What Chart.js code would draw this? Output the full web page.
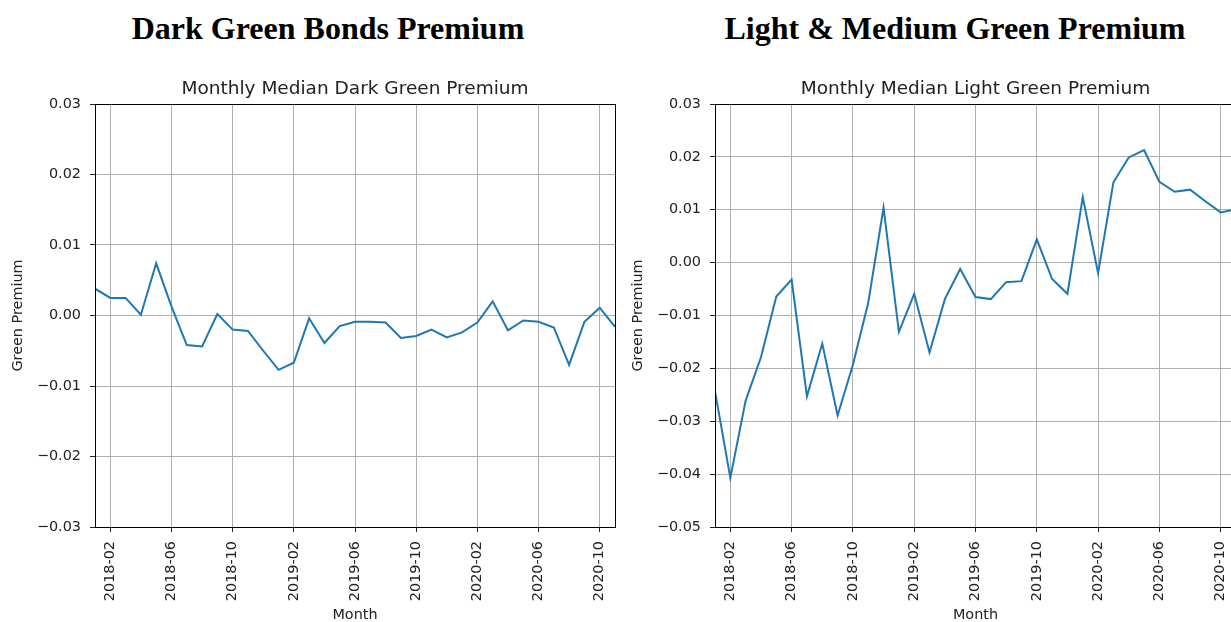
<!DOCTYPE html>
<html>
<head>
<meta charset="utf-8">
<script src="https://cdn.jsdelivr.net/npm/chart.js@4.4.1/dist/chart.umd.min.js"></script>
<style>
  body { margin: 0; background: #fff; overflow: hidden; width: 1231px; height: 622px; position: relative; }
  .heading {
    position: absolute; top: 10px; line-height: 32px; white-space: nowrap; color: #000;
    font: bold 32px "Liberation Serif", "Times New Roman", serif;
    transform: translateX(-50%);
  }
  canvas { position: absolute; top: 60px; }
</style>
</head>
<body>
<div class="heading" style="left:328px">Dark Green Bonds Premium</div>
<div class="heading" style="left:955px">Light &amp; Medium Green Premium</div>
<canvas id="darkChart" width="620" height="562" style="left:0"></canvas>
<canvas id="lightChart" width="621" height="562" style="left:620px"></canvas>
<script>
// monthly medians, Jan 2018 - Nov 2020
const months = [
  '2018-01', '2018-02', '2018-03', '2018-04', '2018-05', '2018-06', '2018-07', '2018-08', '2018-09', '2018-10', '2018-11', '2018-12',
  '2019-01', '2019-02', '2019-03', '2019-04', '2019-05', '2019-06', '2019-07', '2019-08', '2019-09', '2019-10', '2019-11', '2019-12',
  '2020-01', '2020-02', '2020-03', '2020-04', '2020-05', '2020-06', '2020-07', '2020-08', '2020-09', '2020-10', '2020-11'
];
const darkPremium = [
  0.0038, 0.0025, 0.0025, 0.0001, 0.0074, 0.0013, -0.0042, -0.0044, 0.0002, -0.0020, -0.0022, -0.0050,
  -0.0077, -0.0067, -0.0004, -0.0039, -0.0015, -0.0009, -0.0009, -0.0010, -0.0032, -0.0029, -0.0020, -0.0031,
  -0.0024, -0.0010, 0.0020, -0.0021, -0.0007, -0.0009, -0.0017, -0.0070, -0.0009, 0.0011, -0.0016
];
const lightPremium = [
  -0.0243, -0.0407, -0.0261, -0.0179, -0.0064, -0.0032, -0.0253, -0.0153, -0.0289, -0.0193, -0.0076, 0.0104,
  -0.0131, -0.0059, -0.0170, -0.0069, -0.0012, -0.0065, -0.0069, -0.0037, -0.0035, 0.0044, -0.0031, -0.0059,
  0.0124, -0.0020, 0.0152, 0.0199, 0.0213, 0.0153, 0.0134, 0.0138, 0.0116, 0.0095, 0.0101
];
const monthTicks = ['2018-02', '2018-06', '2018-10', '2019-02', '2019-06', '2019-10', '2020-02', '2020-06', '2020-10'];
const darkTicks = [-0.03, -0.02, -0.01, 0, 0.01, 0.02, 0.03];
const lightTicks = [-0.05, -0.04, -0.03, -0.02, -0.01, 0, 0.01, 0.02, 0.03];

const sans = 'DejaVu Sans';
const textColor = '#222';

// black box around the plot area, like matplotlib spines
const framePlugin = {
  id: 'frame',
  afterDatasetsDraw(chart) {
    const { ctx, chartArea: a } = chart;
    ctx.save();
    ctx.strokeStyle = '#000';
    ctx.lineWidth = 1;
    ctx.strokeRect(Math.round(a.left) + 0.5, Math.round(a.top) + 0.5,
      Math.round(a.right - a.left), Math.round(a.bottom - a.top));
    ctx.restore();
  }
};

// axes title centred over the plot area rather than the whole canvas
const axesTitlePlugin = {
  id: 'axesTitle',
  afterDraw(chart, args, opts) {
    const { ctx, chartArea: a } = chart;
    ctx.save();
    ctx.fillStyle = textColor;
    ctx.font = '18.5px "' + sans + '"';
    ctx.textAlign = 'center';
    ctx.textBaseline = 'alphabetic';
    ctx.fillText(opts.text, (a.left + a.right) / 2, a.top - 10);
    ctx.restore();
  }
};

function makeChart(id, title, values, yTicks) {
  const points = values.map((v, i) => ({ x: i, y: v }));
  return new Chart(document.getElementById(id), {
    type: 'line',
    data: {
      datasets: [{
        data: points,
        borderColor: '#1f77b4',
        borderWidth: 2,
        pointRadius: 0,
        tension: 0
      }]
    },
    options: {
      responsive: false,
      animation: false,
      layout: { padding: { left: 0, right: 5, top: 44, bottom: 0 } },
      plugins: {
        legend: { display: false },
        tooltip: { enabled: false },
        axesTitle: { text: title }
      },
      scales: {
        x: {
          type: 'linear',
          min: 0,
          max: months.length - 1,
          border: { display: false },
          grid: { color: '#b0b0b0', lineWidth: 1, tickLength: 5, tickColor: textColor },
          ticks: {
            autoSkip: false,
            minRotation: 90,
            maxRotation: 90,
            padding: 9,
            color: textColor,
            font: { family: sans, size: 14.4 },
            callback: (v) => months[v]
          },
          afterBuildTicks: (scale) => {
            scale.ticks = monthTicks.map(m => ({ value: months.indexOf(m) }));
          },
          afterFit: (scale) => {
            scale.height = 95;
            scale.paddingLeft = 0;
            scale.paddingRight = 0;
          },
          title: {
            display: true,
            text: 'Month',
            color: textColor,
            font: { family: sans, size: 14.4 },
            padding: { top: 0, bottom: -2 }
          }
        },
        y: {
          min: yTicks[0],
          max: yTicks[yTicks.length - 1],
          border: { display: false },
          grid: { color: '#b0b0b0', lineWidth: 1, tickLength: 5, tickColor: textColor },
          ticks: {
            padding: 9,
            color: textColor,
            font: { family: sans, size: 14.4 },
            callback: (v) => v.toFixed(2).replace('-', '\u2212')
          },
          afterBuildTicks: (scale) => {
            scale.ticks = yTicks.map(v => ({ value: v }));
          },
          afterFit: (scale) => {
            scale.width = 95;
            scale.paddingTop = 0;
            scale.paddingBottom = 0;
          },
          title: {
            display: true,
            text: 'Green Premium',
            color: textColor,
            font: { family: sans, size: 14.4 },
            padding: { top: 10, bottom: 0 }
          }
        }
      }
    },
    plugins: [framePlugin, axesTitlePlugin]
  });
}

makeChart('darkChart', 'Monthly Median Dark Green Premium', darkPremium, darkTicks);
makeChart('lightChart', 'Monthly Median Light Green Premium', lightPremium, lightTicks);
</script>
</body>
</html>
